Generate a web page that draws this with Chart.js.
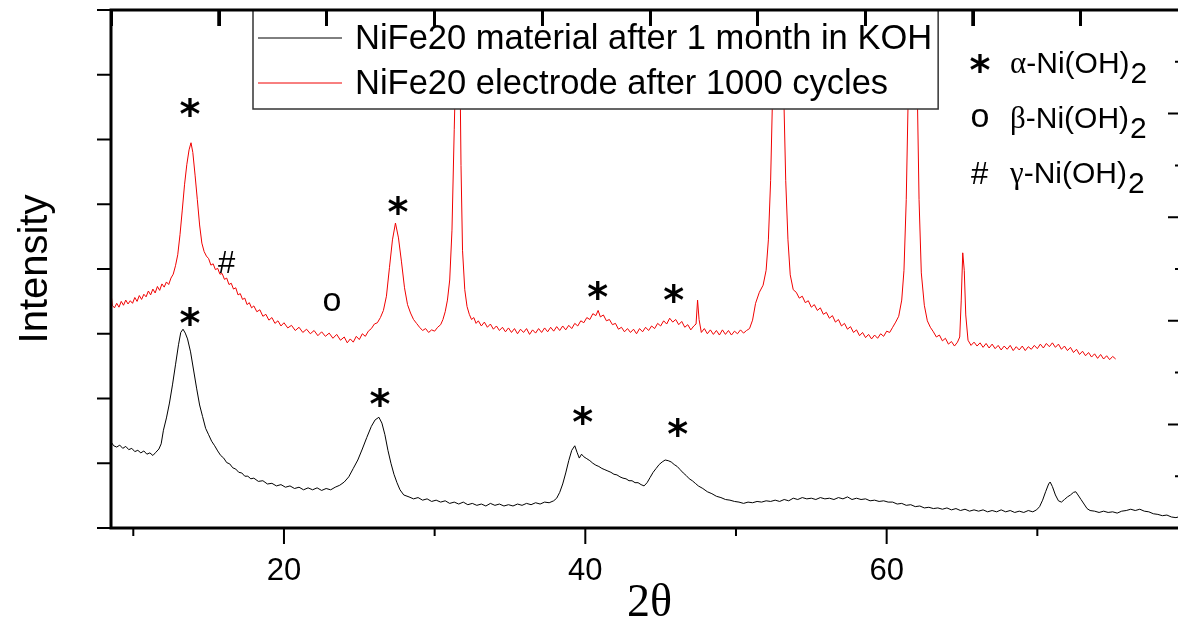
<!DOCTYPE html>
<html>
<head>
<meta charset="utf-8">
<title>XRD NiFe20</title>
<script src="https://cdn.jsdelivr.net/npm/chart.js@4.4.1/dist/chart.umd.min.js"></script>
<style>
  html, body { margin: 0; padding: 0; background: #fff; overflow: hidden; }
  #wrap { width: 1200px; height: 622px; }
</style>
</head>
<body>
<div id="wrap"><canvas id="xrdChart"></canvas></div>
<script>
// NiFe20 material after 1 month in KOH (black)
const kohX = [
  8.52, 8.7, 8.9, 9.1, 9.3, 9.5, 9.7, 9.9, 10.1, 10.3,
  10.5, 10.7, 10.9, 11.1, 11.3, 11.5, 11.7, 11.85, 12.0, 12.2,
  12.4, 12.6, 12.8, 13.0, 13.15, 13.3, 13.45, 13.6, 13.8, 14.0,
  14.2, 14.4, 14.6, 14.8, 15.0, 15.2, 15.4, 15.6, 15.8, 16.0,
  16.2, 16.4, 16.6, 16.8, 17.0, 17.2, 17.4, 17.6, 17.8, 18.0,
  18.3, 18.6, 18.9, 19.2, 19.5, 19.8, 20.1, 20.4, 20.7, 21.0,
  21.3, 21.6, 21.9, 22.2, 22.5, 22.8, 23.1, 23.4, 23.7, 24.0,
  24.3, 24.6, 24.9, 25.2, 25.5, 25.8, 26.05, 26.3, 26.5, 26.7,
  26.9, 27.1, 27.3, 27.5, 27.7, 27.95, 28.3, 28.6, 28.9, 29.2,
  29.5, 29.8, 30.1, 30.4, 30.7, 31.0, 31.3, 31.6, 31.9, 32.2,
  32.5, 32.8, 33.1, 33.4, 33.7, 34.0, 34.3, 34.6, 34.9, 35.2,
  35.5, 35.8, 36.1, 36.4, 36.7, 37.0, 37.3, 37.6, 37.9, 38.1,
  38.3, 38.5, 38.7, 38.9, 39.1, 39.3, 39.45, 39.6, 39.75, 39.9,
  40.1, 40.3, 40.5, 40.7, 40.9, 41.1, 41.3, 41.5, 41.7, 41.9,
  42.1, 42.3, 42.5, 42.7, 42.9, 43.1, 43.3, 43.5, 43.7, 43.9,
  44.1, 44.3, 44.5, 44.7, 44.9, 45.1, 45.3, 45.5, 45.7, 45.9,
  46.1, 46.3, 46.5, 46.7, 46.9, 47.1, 47.3, 47.5, 47.8, 48.1,
  48.4, 48.7, 49.0, 49.3, 49.6, 49.9, 50.2, 50.5, 50.8, 51.1,
  51.4, 51.7, 52.0, 52.3, 52.6, 52.9, 53.2, 53.5, 53.8, 54.1,
  54.4, 54.7, 55.0, 55.3, 55.6, 55.9, 56.2, 56.5, 56.8, 57.1,
  57.4, 57.7, 58.0, 58.3, 58.6, 58.9, 59.2, 59.5, 59.8, 60.1,
  60.4, 60.7, 61.0, 61.3, 61.6, 61.9, 62.2, 62.5, 62.8, 63.1,
  63.4, 63.7, 64.0, 64.3, 64.6, 64.9, 65.2, 65.5, 65.8, 66.1,
  66.4, 66.7, 67.0, 67.3, 67.6, 67.9, 68.2, 68.5, 68.8, 69.1,
  69.4, 69.7, 69.95, 70.15, 70.35, 70.55, 70.75, 70.85, 71.0, 71.2,
  71.4, 71.6, 71.8, 72.0, 72.2, 72.4, 72.55, 72.7, 72.9, 73.1,
  73.3, 73.5, 73.8, 74.1, 74.4, 74.7, 75.0, 75.3, 75.6, 75.9,
  76.2, 76.5, 76.8, 77.1, 77.4, 77.7, 78.0, 78.3, 78.6, 78.9,
  79.2, 79.5, 79.8, 80.0
];
const kohY = [
  1.33, 1.27, 1.25, 1.28, 1.23, 1.26, 1.21, 1.23, 1.18, 1.20,
  1.16, 1.19, 1.14, 1.16, 1.12, 1.17, 1.22, 1.30, 1.51, 1.70,
  1.93, 2.21, 2.52, 2.83, 3.02, 3.07, 3.01, 2.92, 2.72, 2.44,
  2.16, 1.90, 1.72, 1.54, 1.44, 1.34, 1.27, 1.19, 1.12, 1.08,
  1.01, 0.99, 0.93, 0.91, 0.86, 0.85, 0.80, 0.80, 0.76, 0.77,
  0.72, 0.73, 0.68, 0.69, 0.65, 0.67, 0.63, 0.65, 0.61, 0.63,
  0.59, 0.62, 0.59, 0.62, 0.58, 0.61, 0.59, 0.63, 0.66, 0.71,
  0.79, 0.92, 1.05, 1.22, 1.40, 1.57, 1.67, 1.71, 1.62, 1.44,
  1.20, 1.00, 0.83, 0.70, 0.59, 0.51, 0.48, 0.45, 0.47, 0.43,
  0.45, 0.41, 0.43, 0.40, 0.42, 0.38, 0.40, 0.37, 0.40, 0.36,
  0.38, 0.35, 0.37, 0.34, 0.38, 0.35, 0.37, 0.34, 0.36, 0.34,
  0.37, 0.35, 0.38, 0.36, 0.39, 0.37, 0.40, 0.39, 0.42, 0.46,
  0.55, 0.68, 0.85, 1.04, 1.20, 1.27, 1.17, 1.08, 1.14, 1.10,
  1.07, 1.04, 1.00, 0.97, 0.95, 0.92, 0.90, 0.88, 0.86, 0.83,
  0.82, 0.79, 0.77, 0.76, 0.73, 0.73, 0.70, 0.70, 0.67, 0.65,
  0.70, 0.78, 0.86, 0.92, 0.98, 1.02, 1.05, 1.04, 1.02, 0.98,
  0.95, 0.90, 0.85, 0.81, 0.76, 0.73, 0.69, 0.65, 0.61, 0.56,
  0.53, 0.49, 0.47, 0.44, 0.43, 0.41, 0.40, 0.38, 0.40, 0.39,
  0.41, 0.40, 0.42, 0.41, 0.43, 0.41, 0.44, 0.42, 0.46, 0.44,
  0.47, 0.45, 0.46, 0.44, 0.47, 0.45, 0.46, 0.44, 0.47, 0.45,
  0.48, 0.44, 0.46, 0.44, 0.45, 0.42, 0.43, 0.41, 0.42, 0.40,
  0.40, 0.37, 0.38, 0.35, 0.36, 0.33, 0.34, 0.31, 0.32, 0.30,
  0.31, 0.29, 0.31, 0.28, 0.30, 0.27, 0.29, 0.26, 0.28, 0.26,
  0.28, 0.25, 0.27, 0.25, 0.28, 0.25, 0.27, 0.24, 0.26, 0.24,
  0.27, 0.25, 0.28, 0.33, 0.43, 0.56, 0.68, 0.71, 0.64, 0.51,
  0.42, 0.40, 0.44, 0.48, 0.51, 0.55, 0.56, 0.51, 0.44, 0.37,
  0.30, 0.27, 0.26, 0.24, 0.26, 0.24, 0.25, 0.23, 0.26, 0.27,
  0.29, 0.27, 0.29, 0.26, 0.25, 0.22, 0.21, 0.19, 0.20, 0.17,
  0.16, 0.18, 0.15, 0.16
];

// NiFe20 electrode after 1000 cycles (red)
const cyclesX = [
  8.52, 8.6, 8.75, 8.9, 9.05, 9.2, 9.35, 9.5, 9.65, 9.8,
  9.95, 10.1, 10.25, 10.4, 10.55, 10.7, 10.85, 11.0, 11.15, 11.3,
  11.45, 11.6, 11.75, 11.9, 12.05, 12.2, 12.35, 12.5, 12.65, 12.8,
  12.95, 13.1, 13.25, 13.4, 13.55, 13.7, 13.83, 13.95, 14.1, 14.25,
  14.4, 14.55, 14.7, 14.85, 15.0, 15.15, 15.3, 15.45, 15.6, 15.75,
  15.9, 16.05, 16.2, 16.35, 16.5, 16.65, 16.8, 16.95, 17.1, 17.25,
  17.4, 17.55, 17.7, 17.85, 18.0, 18.2, 18.4, 18.6, 18.8, 19.0,
  19.2, 19.4, 19.6, 19.8, 20.0, 20.25, 20.5, 20.75, 21.0, 21.25,
  21.5, 21.75, 22.0, 22.25, 22.5, 22.75, 23.0, 23.25, 23.5, 23.75,
  24.0, 24.2, 24.4, 24.6, 24.8, 25.0, 25.2, 25.4, 25.6, 25.8,
  26.0, 26.2, 26.4, 26.6, 26.8, 27.0, 27.2, 27.4, 27.6, 27.8,
  28.0, 28.2, 28.4, 28.6, 28.8, 29.0, 29.2, 29.4, 29.6, 29.8,
  30.0, 30.2, 30.4, 30.55, 30.7, 30.85, 31.0, 31.15, 31.3, 31.45,
  31.55, 31.65, 31.75, 31.85, 32.0, 32.15, 32.3, 32.45, 32.6, 32.75,
  32.9, 33.1, 33.3, 33.5, 33.7, 33.9, 34.1, 34.3, 34.5, 34.7,
  34.9, 35.1, 35.3, 35.5, 35.7, 35.9, 36.1, 36.3, 36.5, 36.7,
  36.9, 37.1, 37.3, 37.5, 37.7, 37.9, 38.1, 38.3, 38.5, 38.7,
  38.9, 39.1, 39.3, 39.5, 39.7, 39.9, 40.1, 40.3, 40.5, 40.7,
  40.85, 41.0, 41.2, 41.4, 41.6, 41.8, 42.0, 42.2, 42.4, 42.6,
  42.8, 43.0, 43.2, 43.4, 43.6, 43.8, 44.0, 44.2, 44.4, 44.6,
  44.8, 45.0, 45.2, 45.4, 45.6, 45.8, 46.0, 46.2, 46.4, 46.6,
  46.8, 47.0, 47.2, 47.35, 47.45, 47.55, 47.7, 47.9, 48.1, 48.3,
  48.5, 48.7, 48.9, 49.1, 49.3, 49.5, 49.7, 49.9, 50.1, 50.3,
  50.5, 50.7, 50.9, 51.1, 51.3, 51.55, 51.8, 52.0, 52.15, 52.3,
  52.45, 52.6, 52.8, 53.0, 53.15, 53.3, 53.45, 53.6, 53.8, 54.0,
  54.2, 54.4, 54.6, 54.8, 55.0, 55.2, 55.4, 55.6, 55.8, 56.0,
  56.2, 56.4, 56.6, 56.8, 57.0, 57.2, 57.4, 57.6, 57.8, 58.0,
  58.2, 58.4, 58.6, 58.8, 59.0, 59.2, 59.4, 59.6, 59.8, 60.0,
  60.2, 60.4, 60.6, 60.8, 61.0, 61.15, 61.3, 61.45, 61.6, 61.8,
  62.0, 62.15, 62.3, 62.5, 62.7, 62.9, 63.1, 63.3, 63.5, 63.7,
  63.9, 64.1, 64.3, 64.5, 64.7, 64.85, 64.95, 65.05, 65.15, 65.25,
  65.4, 65.6, 65.8, 66.0, 66.2, 66.4, 66.6, 66.8, 67.0, 67.2,
  67.4, 67.6, 67.8, 68.0, 68.2, 68.4, 68.6, 68.8, 69.0, 69.2,
  69.4, 69.6, 69.8, 70.0, 70.2, 70.4, 70.6, 70.8, 71.0, 71.2,
  71.4, 71.6, 71.8, 72.0, 72.2, 72.4, 72.6, 72.8, 73.0, 73.2,
  73.4, 73.6, 73.8, 74.0, 74.2, 74.4, 74.6, 74.8, 75.0, 75.2
];
const cyclesY = [
  3.64, 3.44, 3.40, 3.47, 3.41, 3.50, 3.44, 3.52, 3.46, 3.51,
  3.47, 3.56, 3.50, 3.59, 3.53, 3.61, 3.57, 3.66, 3.60, 3.69,
  3.63, 3.73, 3.67, 3.77, 3.72, 3.80, 3.76, 3.86, 3.92, 4.05,
  4.22, 4.53, 4.91, 5.30, 5.61, 5.84, 5.95, 5.80, 5.45, 5.07,
  4.68, 4.40, 4.27, 4.20, 4.16, 4.06, 4.08, 3.99, 4.01, 3.92,
  3.93, 3.84, 3.86, 3.76, 3.78, 3.69, 3.71, 3.60, 3.62, 3.53,
  3.55, 3.45, 3.48, 3.40, 3.43, 3.34, 3.37, 3.27, 3.30, 3.21,
  3.25, 3.16, 3.20, 3.12, 3.17, 3.09, 3.13, 3.05, 3.10, 3.02,
  3.07, 3.00, 3.05, 2.97, 3.03, 2.96, 3.01, 2.93, 2.99, 2.90,
  2.95, 2.86, 2.92, 2.87, 2.96, 2.91, 3.00, 2.96, 3.04, 3.08,
  3.15, 3.17, 3.25, 3.36, 3.58, 4.02, 4.45, 4.71, 4.48, 4.11,
  3.71, 3.45, 3.32, 3.22, 3.16, 3.10, 3.05, 3.08, 3.02, 3.06,
  3.04, 3.10, 3.14, 3.22, 3.34, 3.52, 3.83, 4.60, 6.15, 7.60,
  9.20, 7.80, 5.60, 4.29, 3.68, 3.42, 3.30, 3.22, 3.25, 3.16,
  3.20, 3.12, 3.18, 3.10, 3.15, 3.07, 3.12, 3.05, 3.10, 3.03,
  3.09, 3.02, 3.08, 3.00, 3.07, 3.02, 3.08, 2.99, 3.06, 3.01,
  3.08, 3.02, 3.09, 3.03, 3.10, 3.04, 3.11, 3.05, 3.12, 3.06,
  3.13, 3.08, 3.16, 3.12, 3.20, 3.17, 3.25, 3.22, 3.31, 3.28,
  3.36, 3.26, 3.29, 3.20, 3.22, 3.14, 3.16, 3.07, 3.10, 3.03,
  3.08, 3.02, 3.07, 3.00, 3.08, 3.03, 3.10, 3.05, 3.12, 3.08,
  3.16, 3.12, 3.20, 3.15, 3.24, 3.18, 3.22, 3.14, 3.19, 3.10,
  3.14, 3.06, 3.12, 3.15, 3.52, 3.22, 3.02, 3.08, 3.00, 3.06,
  2.99, 3.05, 2.98, 3.06, 2.99, 3.05, 2.98, 3.04, 3.00, 3.06,
  3.01, 3.05, 3.08, 3.21, 3.47, 3.64, 3.75, 3.98, 4.45, 5.37,
  6.92, 8.77, 9.30, 8.60, 6.92, 5.37, 4.45, 3.91, 3.68, 3.64,
  3.55, 3.58, 3.48, 3.51, 3.41, 3.45, 3.36, 3.40, 3.30, 3.33,
  3.24, 3.28, 3.18, 3.22, 3.12, 3.16, 3.07, 3.11, 3.02, 3.06,
  2.97, 3.02, 2.94, 2.99, 2.92, 2.98, 2.93, 3.00, 2.96, 3.04,
  3.02, 3.10, 3.18, 3.27, 3.52, 3.98, 5.07, 6.92, 8.77, 9.10,
  7.23, 5.07, 3.94, 3.44, 3.20, 3.10, 3.03, 2.95, 2.98, 2.89,
  2.93, 2.84, 2.88, 2.81, 2.87, 2.95, 3.52, 4.25, 3.98, 3.29,
  2.90, 2.82, 2.87, 2.81, 2.86, 2.79, 2.85, 2.78, 2.84, 2.77,
  2.82, 2.75, 2.81, 2.76, 2.82, 2.74, 2.80, 2.75, 2.81, 2.74,
  2.80, 2.76, 2.82, 2.77, 2.84, 2.78, 2.85, 2.80, 2.86, 2.79,
  2.84, 2.76, 2.81, 2.74, 2.79, 2.71, 2.76, 2.68, 2.73, 2.66,
  2.71, 2.64, 2.69, 2.62, 2.68, 2.61, 2.66, 2.60, 2.65, 2.61
];

const seriesNames = ["NiFe20 material after 1 month in KOH", "NiFe20 electrode after 1000 cycles"];
const seriesColors = ["#000000", "#f00000"];
const xTickLabels = [20, 40, 60];
const topTickCount = 10;

// peak labels placed in data units (2theta, intensity)
const peakSymbols = ["*", "#", "o", "*", "*", "*", "*", "*", "*", "*"];
const peakX = [13.76, 16.22, 23.18, 27.56, 40.83, 45.87, 13.76, 26.37, 39.83, 46.14];
const peakY = [6.50, 4.11, 3.49, 4.99, 3.68, 3.63, 3.27, 2.02, 1.75, 1.56];

// phase key
const phaseSymbols = ["*", "o", "#"];
const phaseGreek = ["α", "β", "γ"];

const symbolFonts = {
  "*": "bold 40px 'DejaVu Sans'",
  "#": "31px 'Liberation Sans'",
  "o": "34px 'Liberation Sans'"
};

function drawCentered(ctx, text, font, cx, cy) {
  ctx.font = font;
  ctx.textAlign = "left";
  ctx.textBaseline = "alphabetic";
  const m = ctx.measureText(text);
  const x = cx - (m.actualBoundingBoxRight - m.actualBoundingBoxLeft) / 2;
  const y = cy - (m.actualBoundingBoxDescent - m.actualBoundingBoxAscent) / 2;
  ctx.fillText(text, x, y);
}

const peakLabels = {
  id: "peakLabels",
  afterDatasetsDraw(chart) {
    const {ctx, scales} = chart;
    ctx.save();
    ctx.fillStyle = "#000";
    for (let i = 0; i < peakSymbols.length; i++) {
      const px = scales.x.getPixelForValue(peakX[i]);
      const py = scales.y.getPixelForValue(peakY[i]);
      drawCentered(ctx, peakSymbols[i], symbolFonts[peakSymbols[i]], px, py);
    }
    ctx.restore();
  }
};

// boxed legend at the top, drawn over the clipped peaks
const boxLegend = {
  id: "boxLegend",
  afterDatasetsDraw(chart) {
    const {ctx, chartArea: a} = chart;
    const left = a.left + 142, top = a.top, bottom = a.top + 99;
    const textX = left + 102;
    ctx.save();
    ctx.font = "34.5px 'Liberation Sans'";
    let maxW = 0;
    chart.data.datasets.forEach(ds => { maxW = Math.max(maxW, ctx.measureText(ds.label).width); });
    const right = textX + maxW + 6;
    ctx.fillStyle = "#fff";
    ctx.fillRect(left, top, right - left, bottom - top);
    ctx.strokeStyle = "#333";
    ctx.lineWidth = 1.5;
    ctx.strokeRect(left, top, right - left, bottom - top);
    chart.data.datasets.forEach((ds, i) => {
      const y = top + 28 + i * 45;
      ctx.strokeStyle = ds.borderColor;
      ctx.lineWidth = 1;
      ctx.beginPath();
      ctx.moveTo(left + 5, y);
      ctx.lineTo(left + 89, y);
      ctx.stroke();
      ctx.fillStyle = "#000";
      ctx.textBaseline = "middle";
      ctx.fillText(ds.label, textX, y + 1);
    });

    // phase key on the right
    const symX = a.right - 208, txtX = a.right - 178;
    phaseSymbols.forEach((s, i) => {
      const rowY = a.top + 53 + i * 55;
      drawCentered(ctx, s, symbolFonts[s], symX, rowY);
      ctx.textBaseline = "alphabetic";
      const base = rowY + 10;
      let x = txtX;
      ctx.font = "31px 'Liberation Serif'";
      ctx.fillText(phaseGreek[i], x, base);
      x += ctx.measureText(phaseGreek[i]).width;
      ctx.font = "30px 'Liberation Sans'";
      ctx.fillText("-Ni(OH)", x, base);
      x += ctx.measureText("-Ni(OH)").width;
      ctx.fillText("2", x + 1, base + 10);
    });
    ctx.restore();
  }
};

// axis box with Origin-style ticks
const axisFrame = {
  id: "axisFrame",
  afterDraw(chart) {
    const {ctx, chartArea: a, scales} = chart;
    ctx.save();
    ctx.strokeStyle = "#000";
    ctx.fillStyle = "#000";
    ctx.lineWidth = 2;
    ctx.beginPath();
    scales.y.ticks.forEach(t => {
      const py = scales.y.getPixelForValue(t.value);
      ctx.moveTo(a.left - 14, py); ctx.lineTo(a.left, py);
    });
    scales.x.ticks.forEach(t => {
      const px = scales.x.getPixelForValue(t.value);
      const len = t.value % 20 === 0 ? 16 : 8;
      ctx.moveTo(px, a.bottom); ctx.lineTo(px, a.bottom + len);
    });
    scales.y2.ticks.forEach(t => {
      const py = scales.y2.getPixelForValue(t.value);
      const len = Number.isInteger(t.value) ? 20 : 13;
      ctx.moveTo(a.right - len, py); ctx.lineTo(a.right, py);
    });
    ctx.stroke();
    // top axis: ten equal divisions, inward ticks
    const xt = scales.xTop;
    xt.ticks.forEach(t => {
      const px = Math.round(xt.getPixelForValue(t.value));
      ctx.fillRect(px - 1, a.top, 3, 16);
    });
    ctx.lineWidth = 3;
    ctx.strokeRect(a.left, a.top, a.right - a.left, a.bottom - a.top);
    ctx.restore();
  }
};

Chart.defaults.color = "#000";

const ctx = document.getElementById("xrdChart").getContext("2d");
const xrdChart = new Chart(ctx, {
  type: "line",
  data: {
    datasets: [
      {
        label: seriesNames[0],
        data: kohX.map((x, i) => ({x: x, y: kohY[i]})),
        borderColor: seriesColors[0],
        borderWidth: 1,
        pointRadius: 0,
        tension: 0
      },
      {
        label: seriesNames[1],
        data: cyclesX.map((x, i) => ({x: x, y: cyclesY[i]})),
        borderColor: seriesColors[1],
        borderWidth: 1,
        pointRadius: 0,
        tension: 0
      }
    ]
  },
  options: {
    responsive: true,
    maintainAspectRatio: false,
    animation: false,
    layout: { padding: 0 },
    plugins: {
      legend: { display: false },
      tooltip: { enabled: false }
    },
    scales: {
      x: {
        type: "linear",
        position: "bottom",
        min: 8.52,
        max: 80,
        grid: { display: false, drawTicks: false },
        border: { display: false },
        ticks: {
          stepSize: 10,
          includeBounds: false,
          autoSkip: false,
          maxRotation: 0,
          padding: 25,
          font: { family: "'Liberation Sans'", size: 31 },
          callback: v => xTickLabels.includes(v) ? String(v) : ""
        },
        title: {
          display: true,
          text: "2θ",
          font: { family: "'Liberation Serif'", size: 46, lineHeight: 0.8 },
          padding: { top: 0, bottom: 0 }
        },
        afterFit: s => { s.height = 94; s.paddingLeft = 0; s.paddingRight = 0; }
      },
      xTop: {
        type: "linear",
        axis: "x",
        position: "top",
        min: 0,
        max: topTickCount,
        // negative tick length turns the marks inward
        grid: { display: true, drawOnChartArea: false, drawTicks: true, tickLength: -16, tickWidth: 2.5, tickColor: "#000" },
        border: { display: false },
        ticks: { stepSize: 1, display: false },
        afterFit: s => { s.height = 10; }
      },
      y: {
        type: "linear",
        position: "left",
        min: 0,
        max: 8,
        grid: { display: false, drawTicks: false },
        border: { display: false },
        ticks: { stepSize: 1, display: false },
        title: {
          display: true,
          text: "Intensity",
          font: { family: "'Liberation Sans'", size: 40 },
          padding: { top: 12, bottom: 0 }
        },
        afterFit: s => { s.width = 111; }
      },
      y2: {
        type: "linear",
        position: "right",
        min: 0,
        max: 5,
        grid: { display: false, drawTicks: false },
        border: { display: false },
        ticks: { stepSize: 0.5, display: false },
        // right frame sits just past the visible edge
        afterFit: s => { s.width = 12; }
      }
    }
  },
  plugins: [peakLabels, boxLegend, axisFrame]
});
</script>
</body>
</html>
